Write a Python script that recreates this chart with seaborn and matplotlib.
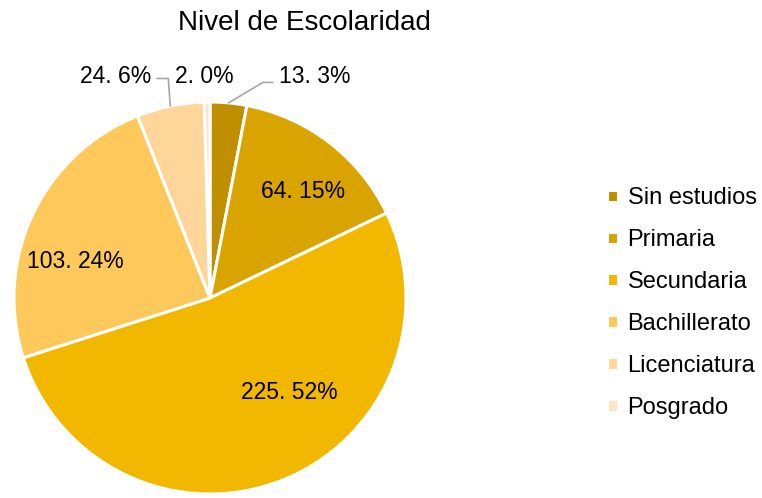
import numpy as np
import matplotlib
matplotlib.use("Agg")
import matplotlib.pyplot as plt
import seaborn as sns

# data
categories = ["Sin estudios", "Primaria", "Secundaria", "Bachillerato", "Licenciatura", "Posgrado"]
counts = [13, 64, 225, 103, 24, 2]
colors = ["#BF8F00", "#D9A300", "#F2B800", "#FFC85A", "#FFD699", "#FFE3C2"]
title = "Nivel de Escolaridad"

sns.set_theme(style="white")
plt.rcParams["font.family"] = ["Liberation Sans", "DejaVu Sans"]
plt.rcParams["text.color"] = "black"

fig = plt.figure(figsize=(7.62, 4.98), dpi=100)
W, H = 762, 498
cx, cy, r = 210, 298, 196
ax = fig.add_axes([(cx - r) / W, (H - cy - r) / H, 2 * r / W, 2 * r / H])

pal = sns.color_palette(colors)
wedges, _ = ax.pie(counts, colors=pal, startangle=90, counterclock=False,
                   wedgeprops=dict(edgecolor="white", linewidth=2.2))
ax.set_xlim(-1, 1)
ax.set_ylim(-1, 1)
ax.set_aspect("equal")
ax.axis("off")

total = sum(counts)
labels = [f"{c}. {round(100 * c / total)}%" for c in counts]
fs = 16.5

# inside labels (radius, angle in degrees)
inside = {1: (0.72, 49), 2: (0.63, -50), 3: (0.71, 165)}
for i, (rr, ang) in inside.items():
    a = np.deg2rad(ang)
    ax.text(rr * np.cos(a), rr * np.sin(a), labels[i], ha="center", va="center",
            fontsize=fs, color="black")

# outside labels
ty = 1.13
ax.text(0.35, ty, labels[0], ha="left", va="center", fontsize=fs, color="black")
ax.text(-0.03, ty, labels[5], ha="center", va="center", fontsize=fs, color="black")
ax.text(-0.30, ty, labels[4], ha="right", va="center", fontsize=fs, color="black")

def edge_point(w):
    a = np.deg2rad((w.theta1 + w.theta2) / 2)
    return np.cos(a), np.sin(a)

lc = "#A6A6A6"
x0, y0 = edge_point(wedges[0])
ax.plot([x0, 0.27, 0.32], [y0, 1.10, 1.10], color=lc, lw=1.2, clip_on=False)
x4, y4 = edge_point(wedges[4])
ax.plot([x4, x4 - 0.01, -0.27], [y4, 1.12, 1.12], color=lc, lw=1.2, clip_on=False)

fig.text(304 / W, 1 - 23 / H, title, ha="center", va="center", fontsize=20, color="black")

fig.legend(wedges, categories, loc="upper left", bbox_to_anchor=(598 / W, 1 - 178 / H),
           frameon=False, fontsize=17, handlelength=0.45, handleheight=0.45,
           handletextpad=0.4, labelspacing=0.84, borderaxespad=0, labelcolor="black")

fig.savefig("out.png", dpi=100)
